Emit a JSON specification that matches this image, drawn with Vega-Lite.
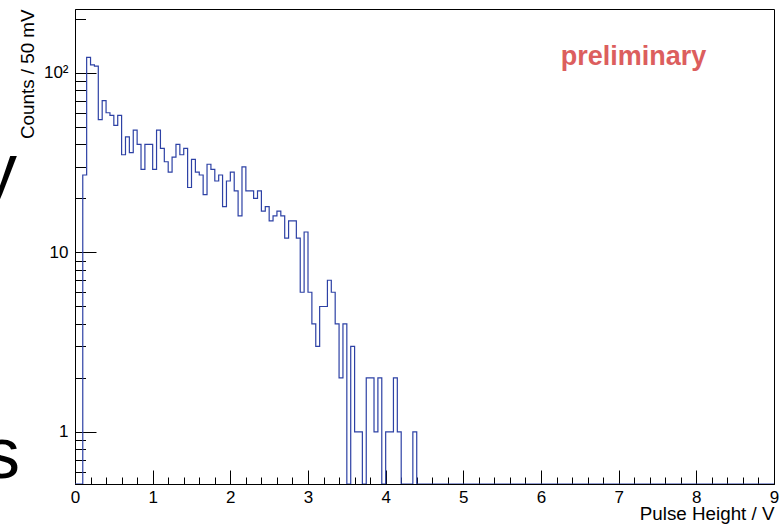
{
  "$schema": "https://vega.github.io/schema/vega-lite/v6.json",
  "width": 699,
  "height": 475,
  "autosize": {"type": "none"},
  "padding": {"left": 75, "top": 9, "right": 7, "bottom": 40},
  "background": "white",
  "config": {
    "view": {"stroke": "black", "strokeWidth": 1},
    "font": "Liberation Sans",
    "axis": {
      "zindex": 1,
      "grid": false,
      "domainColor": "black",
      "tickColor": "black",
      "labelColor": "black",
      "titleColor": "black",
      "labelFont": "Liberation Sans",
      "titleFont": "Liberation Sans",
      "labelFontSize": 17,
      "titleFontSize": 18.8,
      "titleFontWeight": "normal"
    }
  },
  "datasets": {
    "hist": [
      {"lo": 0, "count": 0}, {"lo": 0.05, "count": 0}, {"lo": 0.1, "count": 27}, {"lo": 0.15, "count": 122},
      {"lo": 0.2, "count": 111}, {"lo": 0.25, "count": 109}, {"lo": 0.3, "count": 55}, {"lo": 0.35, "count": 70},
      {"lo": 0.4, "count": 60}, {"lo": 0.45, "count": 58}, {"lo": 0.5, "count": 51}, {"lo": 0.55, "count": 58},
      {"lo": 0.6, "count": 35}, {"lo": 0.65, "count": 44}, {"lo": 0.7, "count": 36}, {"lo": 0.75, "count": 48},
      {"lo": 0.8, "count": 40}, {"lo": 0.85, "count": 29}, {"lo": 0.9, "count": 40}, {"lo": 0.95, "count": 40},
      {"lo": 1.0, "count": 29}, {"lo": 1.05, "count": 48}, {"lo": 1.1, "count": 38}, {"lo": 1.15, "count": 32},
      {"lo": 1.2, "count": 28}, {"lo": 1.25, "count": 34}, {"lo": 1.3, "count": 40}, {"lo": 1.35, "count": 35},
      {"lo": 1.4, "count": 38}, {"lo": 1.45, "count": 23}, {"lo": 1.5, "count": 33}, {"lo": 1.55, "count": 28},
      {"lo": 1.6, "count": 27}, {"lo": 1.65, "count": 21}, {"lo": 1.7, "count": 31}, {"lo": 1.75, "count": 29},
      {"lo": 1.8, "count": 25}, {"lo": 1.85, "count": 27}, {"lo": 1.9, "count": 18}, {"lo": 1.95, "count": 25},
      {"lo": 2.0, "count": 28}, {"lo": 2.05, "count": 22}, {"lo": 2.1, "count": 16}, {"lo": 2.15, "count": 30},
      {"lo": 2.2, "count": 22}, {"lo": 2.25, "count": 22}, {"lo": 2.3, "count": 20}, {"lo": 2.35, "count": 22},
      {"lo": 2.4, "count": 17}, {"lo": 2.45, "count": 18}, {"lo": 2.5, "count": 15}, {"lo": 2.55, "count": 16},
      {"lo": 2.6, "count": 17}, {"lo": 2.65, "count": 16}, {"lo": 2.7, "count": 12}, {"lo": 2.75, "count": 15},
      {"lo": 2.8, "count": 15}, {"lo": 2.85, "count": 12}, {"lo": 2.9, "count": 6}, {"lo": 2.95, "count": 13},
      {"lo": 3.0, "count": 6}, {"lo": 3.05, "count": 4}, {"lo": 3.1, "count": 3}, {"lo": 3.15, "count": 5},
      {"lo": 3.2, "count": 5}, {"lo": 3.25, "count": 7}, {"lo": 3.3, "count": 6}, {"lo": 3.35, "count": 4},
      {"lo": 3.4, "count": 2}, {"lo": 3.45, "count": 4}, {"lo": 3.5, "count": 0}, {"lo": 3.55, "count": 3},
      {"lo": 3.6, "count": 1}, {"lo": 3.65, "count": 1}, {"lo": 3.7, "count": 0}, {"lo": 3.75, "count": 2},
      {"lo": 3.8, "count": 2}, {"lo": 3.85, "count": 1}, {"lo": 3.9, "count": 2}, {"lo": 3.95, "count": 0},
      {"lo": 4.0, "count": 1}, {"lo": 4.05, "count": 1}, {"lo": 4.1, "count": 2}, {"lo": 4.15, "count": 1},
      {"lo": 4.2, "count": 0}, {"lo": 4.25, "count": 0}, {"lo": 4.3, "count": 0}, {"lo": 4.35, "count": 1},
      {"lo": 4.4, "count": 0}, {"lo": 9, "count": 0}
    ]
  },
  "layer": [
    {
      "data": {"name": "hist"},
      "mark": {"type": "line", "interpolate": "step-after", "color": "#2d41a5", "strokeWidth": 1.2, "clip": true},
      "encoding": {
        "x": {
          "field": "lo", "type": "quantitative",
          "scale": {"domain": [0, 9], "nice": false, "zero": false},
          "axis": {
            "orient": "bottom",
            "values": [0, 1, 2, 3, 4, 5, 6, 7, 8, 9],
            "tickSize": -14,
            "labelPadding": 19,
            "labelFlush": false,
            "labelOverlap": false,
            "title": "Pulse Height / V",
            "titleX": 699,
            "titleY": 35,
            "titleAlign": "right",
            "titleBaseline": "alphabetic"
          }
        },
        "y": {
          "field": "count", "type": "quantitative",
          "scale": {"type": "log", "domain": [0.513, 227], "nice": false, "clamp": true},
          "axis": {
            "orient": "left",
            "values": [1, 10, 100],
            "tickSize": -21,
            "labelPadding": 28,
            "labelOverlap": false,
            "labelExpr": "datum.value == 100 ? '10²' : datum.value == 10 ? '10' : '1'",
            "title": "Counts / 50 mV",
            "titleX": -42,
            "titleY": 0,
            "titleAngle": 270,
            "titleAlign": "right",
            "titleBaseline": "alphabetic"
          }
        }
      }
    },
    {
      "data": {"values": [{"label": "preliminary"}]},
      "mark": {"type": "text", "font": "Liberation Sans", "fontWeight": "bold", "fontSize": 27, "color": "#dc5e5e", "align": "center", "baseline": "alphabetic"},
      "encoding": {
        "text": {"field": "label"},
        "x": {
          "datum": 7.19, "type": "quantitative",
          "axis": {
            "orient": "bottom",
            "values": [0.2, 0.4, 0.6, 0.8, 1.2, 1.4, 1.6, 1.8, 2.2, 2.4, 2.6, 2.8, 3.2, 3.4, 3.6, 3.8, 4.2, 4.4, 4.6, 4.8, 5.2, 5.4, 5.6, 5.8, 6.2, 6.4, 6.6, 6.8, 7.2, 7.4, 7.6, 7.8, 8.2, 8.4, 8.6, 8.8],
            "tickSize": -7,
            "labels": false,
            "domain": false,
            "title": null
          }
        },
        "y": {
          "datum": 111, "type": "quantitative",
          "axis": {
            "orient": "left",
            "values": [0.6, 0.7, 0.8, 0.9, 2, 3, 4, 5, 6, 7, 8, 9, 20, 30, 40, 50, 60, 70, 80, 90, 200],
            "tickSize": -10.5,
            "labels": false,
            "domain": false,
            "title": null
          }
        }
      }
    },
    {
      "data": {"values": [{"label": "y"}]},
      "mark": {"type": "text", "font": "Liberation Sans", "fontSize": 72, "color": "black", "align": "right", "baseline": "alphabetic"},
      "encoding": {
        "text": {"field": "label"},
        "x": {"datum": -0.747, "type": "quantitative", "axis": null},
        "y": {"datum": 21.2, "type": "quantitative", "axis": null}
      }
    },
    {
      "data": {"values": [{"label": "s"}]},
      "mark": {"type": "text", "font": "Liberation Sans", "fontSize": 72, "color": "black", "align": "right", "baseline": "alphabetic"},
      "encoding": {
        "text": {"field": "label"},
        "x": {"datum": -0.708, "type": "quantitative", "axis": null},
        "y": {"datum": 0.554, "type": "quantitative", "axis": null}
      }
    }
  ],
  "resolve": {"axis": {"x": "independent", "y": "independent"}}
}
